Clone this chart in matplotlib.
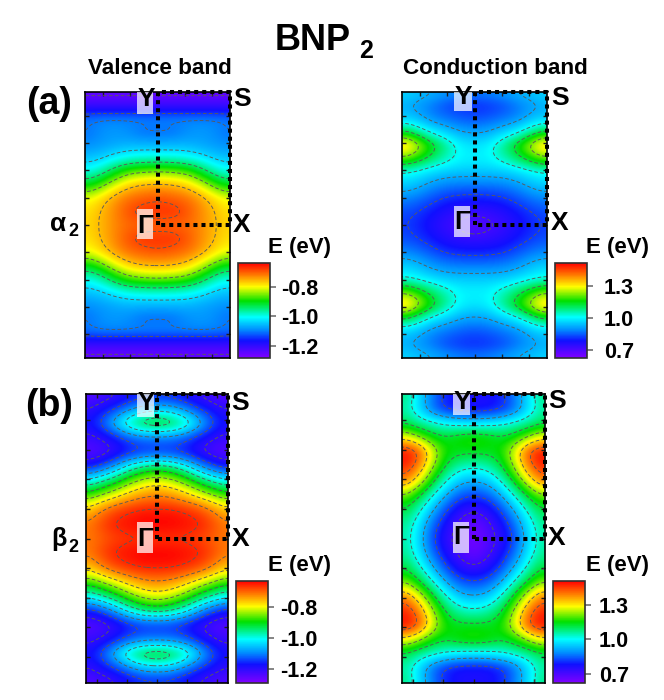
import matplotlib
matplotlib.use("Agg")
import matplotlib.pyplot as plt
from matplotlib.colors import LinearSegmentedColormap, Normalize
from matplotlib.cm import ScalarMappable
from matplotlib.patches import Rectangle
import numpy as np

plt.rcParams["font.family"] = ["Liberation Sans", "DejaVu Sans"]
plt.rcParams["font.weight"] = "bold"
plt.rcParams["axes.unicode_minus"] = False

W, H = 664, 700

# E (eV) on one quadrant: rows go Y -> Gamma, columns go Gamma -> X
ky = [1.0, 0.9, 0.8, 0.7, 0.6, 0.5, 0.4, 0.3, 0.2, 0.1, 0.0]
kx = [0.0, 0.2, 0.4, 0.6, 0.8, 1.0]

e_a_val = [
    [-1.26, -1.26, -1.26, -1.26, -1.26, -1.26],
    [-1.21, -1.21, -1.21, -1.21, -1.21, -1.21],
    [-1.09, -1.09, -1.09, -1.09, -1.09, -1.10],
    [-1.11, -1.11, -1.09, -1.08, -1.09, -1.11],
    [-1.06, -1.06, -1.06, -1.07, -1.08, -1.09],
    [-0.98, -0.98, -0.99, -1.01, -1.04, -1.05],
    [-0.84, -0.85, -0.86, -0.91, -0.97, -1.00],
    [-0.75, -0.75, -0.77, -0.81, -0.87, -0.91],
    [-0.69, -0.70, -0.71, -0.74, -0.78, -0.81],
    [-0.67, -0.67, -0.69, -0.73, -0.76, -0.79],
    [-0.71, -0.71, -0.71, -0.73, -0.76, -0.78],
]
e_a_con = [
    [0.89, 0.90, 0.92, 0.94, 0.96, 0.98],
    [0.80, 0.81, 0.83, 0.87, 0.90, 0.93],
    [0.84, 0.85, 0.87, 0.89, 0.94, 0.96],
    [0.91, 0.92, 0.96, 1.00, 1.08, 1.15],
    [0.98, 1.00, 1.08, 1.17, 1.28, 1.38],
    [1.00, 1.00, 1.05, 1.10, 1.17, 1.22],
    [0.95, 0.95, 0.95, 0.97, 1.00, 1.02],
    [0.87, 0.87, 0.88, 0.90, 0.94, 0.96],
    [0.80, 0.80, 0.81, 0.84, 0.87, 0.89],
    [0.73, 0.74, 0.76, 0.79, 0.82, 0.84],
    [0.68, 0.70, 0.73, 0.77, 0.80, 0.83],
]
e_b_val = [
    [-1.18, -1.18, -1.20, -1.22, -1.24, -1.25],
    [-1.05, -1.06, -1.10, -1.15, -1.18, -1.21],
    [-0.88, -0.90, -0.95, -1.04, -1.13, -1.18],
    [-1.11, -1.11, -1.13, -1.17, -1.20, -1.22],
    [-1.16, -1.16, -1.18, -1.21, -1.24, -1.25],
    [-0.93, -0.95, -1.00, -1.08, -1.14, -1.18],
    [-0.80, -0.82, -0.86, -0.92, -0.97, -1.01],
    [-0.72, -0.73, -0.76, -0.80, -0.84, -0.88],
    [-0.65, -0.65, -0.66, -0.68, -0.72, -0.77],
    [-0.63, -0.63, -0.64, -0.65, -0.68, -0.72],
    [-0.67, -0.67, -0.67, -0.68, -0.70, -0.72],
]
e_b_con = [
    [0.77, 0.77, 0.80, 0.89, 0.99, 1.12],
    [0.76, 0.76, 0.79, 0.86, 0.98, 1.08],
    [0.98, 0.99, 1.01, 1.04, 1.07, 1.11],
    [1.19, 1.17, 1.13, 1.16, 1.24, 1.31],
    [1.14, 1.14, 1.16, 1.30, 1.47, 1.52],
    [1.03, 1.05, 1.12, 1.25, 1.42, 1.50],
    [0.92, 0.94, 1.03, 1.16, 1.30, 1.42],
    [0.82, 0.84, 0.92, 1.04, 1.15, 1.23],
    [0.72, 0.75, 0.83, 0.94, 1.06, 1.13],
    [0.65, 0.70, 0.77, 0.87, 1.00, 1.09],
    [0.63, 0.68, 0.74, 0.84, 0.98, 1.08],
]

val_ticks = [-1.2, -1.0, -0.8]
con_ticks = [0.7, 1.0, 1.3]
a_val_levels = [-1.24, -1.14, -1.10, -1.03, -0.94, -0.85, -0.76, -0.69]
b_val_levels = [-1.20, -1.14, -1.08, -1.02, -0.96, -0.90, -0.84, -0.78, -0.72, -0.66]
con_levels = [0.72, 0.82, 0.92, 1.02, 1.12, 1.22, 1.32, 1.42]

cmap = LinearSegmentedColormap.from_list(
    "band",
    [(0.0, "#8000ff"), (0.18, "#1010ff"), (0.3, "#0090ff"), (0.43, "#00ffff"),
     (0.6, "#00e000"), (0.75, "#ffff00"), (0.87, "#ff8000"), (1.0, "#ff0000")],
)

fig = plt.figure(figsize=(W / 100, H / 100), dpi=100)


def add_px_axes(x0, y0, x1, y1):
    return fig.add_axes([x0 / W, 1 - y1 / H, (x1 - x0) / W, (y1 - y0) / H])


def put(x, y, s, size, **kw):
    kw.setdefault("ha", "center")
    kw.setdefault("va", "center")
    kw.setdefault("zorder", 8)
    return fig.text(x / W, 1 - y / H, s, fontsize=size, **kw)


def pale_box(x0, y0, x1, y1):
    fig.add_artist(Rectangle((x0 / W, 1 - y1 / H), (x1 - x0) / W, (y1 - y0) / H,
                             transform=fig.transFigure, fc="white", ec="none",
                             alpha=0.72, zorder=7))


def blur(a, sigma, axis):
    # gaussian along one axis, samples are mirrored at the zone edge
    r = int(4 * sigma) + 1
    g = np.exp(-0.5 * (np.arange(-r, r + 1) / sigma) ** 2)
    g /= g.sum()
    return np.apply_along_axis(
        lambda v: np.convolve(np.pad(v, r, mode="reflect"), g, mode="valid"), axis, a)


def smooth_field(table):
    # mirror the quadrant, resample on a fine mesh and take off the reading noise
    q = np.array(table)[::-1]
    ys = np.array(ky)[::-1]
    xs = np.array(kx)
    z = np.hstack([q[:, :0:-1], q])
    z = np.vstack([z[:0:-1], z])
    cx = np.r_[-xs[:0:-1], xs]
    cy = np.r_[-ys[:0:-1], ys]
    fx = np.linspace(-1, 1, 201)
    fy = np.linspace(-1, 1, 401)
    a = np.array([np.interp(fx, cx, row) for row in z])
    a = np.array([np.interp(fy, cy, col) for col in a.T]).T
    a = blur(a, 0.09 / (fx[1] - fx[0]), 1)
    a = blur(a, 0.04 / (fy[1] - fy[0]), 0)
    return fx, fy, a


def draw_panel(box, cbox, table, vmin, vmax, ticks, levels, xstep, ystep, pad):
    ax = add_px_axes(*box)
    fx, fy, a = smooth_field(table)
    norm = Normalize(vmin, vmax)
    ax.imshow(a, origin="lower", extent=(-1, 1, -1, 1), aspect="auto", cmap=cmap,
              norm=norm, interpolation="bilinear")
    ax.contour(fx, fy, a, levels=levels, colors="#5a5a5a", linewidths=0.65,
               linestyles=[(0, (4, 2.5))])
    ax.set_xlim(-1, 1)
    ax.set_ylim(-1, 1)
    ax.set_xticks(np.arange(-2, 3) * xstep)
    ax.set_yticks(np.arange(-4, 5) * ystep)
    ax.tick_params(direction="in", length=3, width=1, top=True, right=True,
                   labelleft=False, labelbottom=False, color="#202020")
    for s in ax.spines.values():
        s.set_linewidth(1.2)
    # high symmetry path
    ax.plot([0, 0, 1, 1, 0], [0, 1, 1, 0, 0], color="k", lw=2.9,
            linestyle=(0, (1, 1)), clip_on=False, zorder=5)

    cax = add_px_axes(*cbox)
    cb = fig.colorbar(ScalarMappable(norm=norm, cmap=cmap), cax=cax, ticks=ticks,
                      format="%.1f")
    cb.outline.set_linewidth(1.2)
    cb.outline.set_edgecolor("#303030")
    cax.tick_params(length=4, width=1.2, color="#707070", pad=pad, labelsize=15.5)
    return ax


draw_panel((85, 92, 230, 358), (238, 263, 270, 358), e_a_val, -1.28, -0.64,
           val_ticks, a_val_levels, 0.375, 0.205, 4)
draw_panel((402, 92, 547, 358), (555, 263, 587, 358), e_a_con, 0.625, 1.515,
           con_ticks, con_levels, 0.375, 0.205, 8)
draw_panel((86, 394, 228, 683), (236, 581, 268, 683), e_b_val, -1.29, -0.632,
           val_ticks, b_val_levels, 0.42, 0.205, 5)
draw_panel((402, 394, 545, 683), (553, 581, 585, 683), e_b_con, 0.62, 1.51,
           con_ticks, con_levels, 0.42, 0.205, 6)

# pale boxes under Y and Gamma
pale_box(137, 92, 153, 114)
pale_box(137, 209, 153, 239)
pale_box(454, 92, 472, 111)
pale_box(454, 206, 470, 237)
pale_box(137, 394, 154, 417)
pale_box(137, 522, 153, 553)
pale_box(453, 394, 470, 415)
pale_box(453, 522, 469, 553)

for s, x, y in [("Y", 146, 99), ("Γ", 145, 226), ("S", 242, 99), ("X", 242, 225),
                ("Y", 463, 97), ("Γ", 462, 222), ("S", 560, 98), ("X", 560, 223),
                ("Y", 146, 403), ("Γ", 145, 539), ("S", 240, 403), ("X", 241, 539),
                ("Y", 462, 402), ("Γ", 461, 537), ("S", 557, 401), ("X", 557, 538)]:
    put(x, y, s, 19)

put(275, 40, "BNP", 26, ha="left")
put(359, 51, "2", 18, ha="left")
put(160, 69, "Valence band", 16.2)
put(495, 69, "Conduction band", 16.2)
put(49, 104, "(a)", 27)
put(49, 406, "(b)", 27)
put(50, 224, "α", 19, ha="left")
put(68, 232, "2", 13, ha="left")
put(51, 539, "β", 18, ha="left")
put(68, 547, "2", 13, ha="left")
for x, y in [(300, 247), (618, 247), (300, 566), (618, 566)]:
    put(x, y, "E (eV)", 16)

fig.savefig("out.png", dpi=100)
